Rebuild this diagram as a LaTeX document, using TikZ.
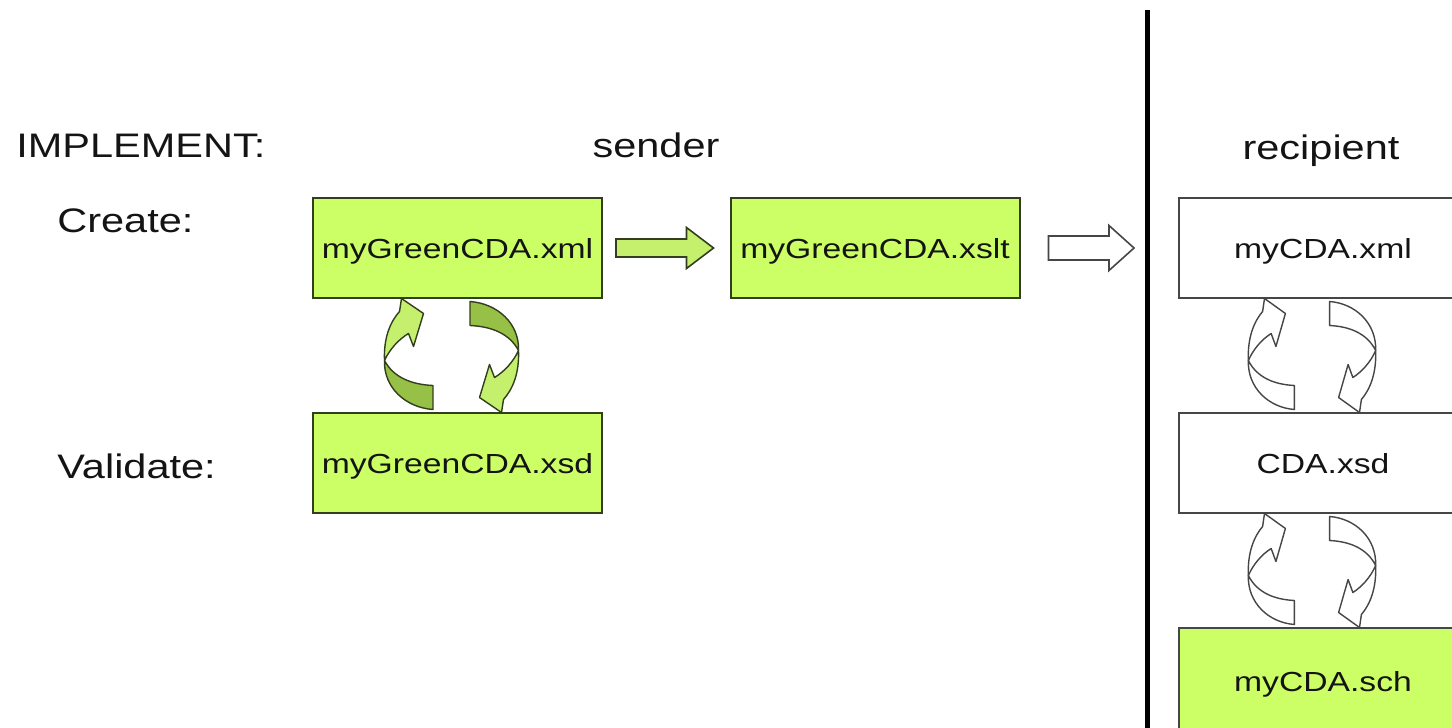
\documentclass[tikz,border=0pt]{standalone}
\usepackage{fontspec}
\setmainfont{Liberation Sans}[FakeStretch=1.22]
\usetikzlibrary{calc}
\definecolor{boxgreen}{RGB}{204,255,102}
\definecolor{arrgreen}{RGB}{196,240,110}
\definecolor{darkgreen}{RGB}{150,192,70}
\definecolor{greenedge}{RGB}{50,62,30}
\definecolor{greyedge}{RGB}{70,70,70}
\definecolor{txt}{RGB}{20,20,20}

\newcommand{\drawcycle}[4]{%
\begin{scope}[shift={#1},xscale=#2]
 \foreach \r in {0,180}{
  \begin{scope}[rotate=\r]
   \path[#3] (-67,5) .. controls (-68,-18) and (-61,-34) .. (-52,-44)
      -- (-50,-57) -- (-28,-42) -- (-38,-9) -- (-43,-22)
      .. controls (-53,-16) and (-62,-6) .. (-67,5) -- cycle;
   \path[#4] (-67,5) .. controls (-68,32) and (-46,52) .. (-18.5,54)
      -- (-18.5,30) .. controls (-40,29) and (-58,22) .. (-67,5) -- cycle;
  \end{scope}}
\end{scope}}

\tikzset{
 boxtext/.style={font=\fontsize{13.8}{16}\selectfont, text=txt, text depth=0pt},
 gbox/.style={draw=greenedge, line width=1pt, fill=boxgreen, minimum width=144.5pt,
   minimum height=50pt, inner sep=0pt, boxtext},
 wbox/.style={draw=greyedge, line width=1pt, fill=white, minimum width=144pt,
   minimum height=50pt, inner sep=0pt, boxtext},
 lbl/.style={font=\fontsize{17}{20}\selectfont, text=txt, inner sep=0pt},
 glight/.style={fill=arrgreen, draw=greenedge, line width=0.7pt, line join=round},
 gdark/.style={fill=darkgreen, draw=greenedge, line width=0.7pt, line join=round},
 wlight/.style={fill=white, draw=greyedge, line width=0.7pt, line join=round},
 garrow/.style={fill=arrgreen, draw=greenedge, line width=0.8pt, line join=miter},
 warrow/.style={fill=white, draw=greyedge, line width=0.8pt, line join=miter},
 sepline/.style={line width=2.5pt, black},
}

\begin{document}
\begin{tikzpicture}[x=0.5pt, y=-0.5pt]
\clip (0,0) rectangle (1452,728);
\fill[white] (0,0) rectangle (1452,728);

% labels
\node[lbl, anchor=base west] (impl) at (16,157) {IMPLEMENT:};
\node[lbl, anchor=base west] (create) at (57,232) {Create:};
\node[lbl, anchor=base west] (valid) at (57,478) {Validate:};
\node[lbl, anchor=base] (sender) at (656,157) {sender};
\node[lbl, anchor=base] (recip) at (1321,159) {recipient};

% sender boxes
\node[gbox] (gxml) at (457.5,248) {myGreenCDA.xml};
\node[gbox] (gxslt) at (875,248) {myGreenCDA.xslt};
\node[gbox] (gxsd) at (457.5,463) {myGreenCDA.xsd};

% recipient boxes
\node[wbox] (rxml) at (1323,248) {myCDA.xml};
\node[wbox] (rxsd) at (1323,463) {CDA.xsd};
\node[wbox, fill=boxgreen, minimum height=70pt] (rsch) at (1323,698) {};
\node[boxtext] (rschtext) at (1323,681) {myCDA.sch};

% separator
\draw[sepline] (1147,10) -- (1147,740);

% green block arrow
\coordinate (a1s) at ($(gxml.east)+(13,0)$);
\coordinate (a1e) at ($(gxslt.west)+(-16,0)$);
\draw[garrow] ($(a1s)+(0,-9)$) -- ($(a1e)+(-27,-9)$) -- ($(a1e)+(-27,-20.5)$)
  -- (a1e) -- ($(a1e)+(-27,20.5)$) -- ($(a1e)+(-27,9)$) -- ($(a1s)+(0,9)$) -- cycle;

% white block arrow
\coordinate (a2s) at ($(gxslt.east)+(28,0)$);
\coordinate (a2e) at ($(gxslt.east -| rxml.west)+(-44,0)$);
\draw[warrow] ($(a2s)+(0,-12)$) -- ($(a2e)+(-25,-12)$) -- ($(a2e)+(-25,-22.5)$)
  -- (a2e) -- ($(a2e)+(-25,22.5)$) -- ($(a2e)+(-25,12)$) -- ($(a2s)+(0,12)$) -- cycle;

% circular arrows
\drawcycle{($(gxml.south)!0.5!(gxsd.north)+(-6,0)$)}{1}{glight}{gdark}
\drawcycle{($(rxml.south)!0.5!(rxsd.north)+(-11,0)$)}{0.95}{wlight}{wlight}
\drawcycle{($(rxsd.south)!0.5!(rsch.north)+(-11,0)$)}{0.95}{wlight}{wlight}
\end{tikzpicture}
\end{document}
